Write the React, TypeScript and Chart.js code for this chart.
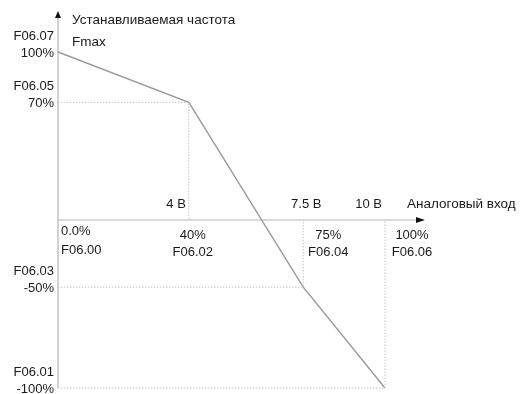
import React, { useEffect, useRef } from "react";
import { Chart, registerables, LinearScale } from "chart.js";

Chart.register(...registerables);

// ---- data ----
const inputPercent = [0, 40, 75, 100];
const outputPercent = [100, 70, -50, -100];
const inputPercentLabels = ["0.0%", "40%", "75%", "100%"];
const inputCodes = ["F06.00", "F06.02", "F06.04", "F06.06"];
const outputPercentLabels = ["100%", "70%", "-50%", "-100%"];
const outputCodes = ["F06.07", "F06.05", "F06.03", "F06.01"];
const voltageLabels = ["", "4 В", "7.5 В", "10 В"];
const yAxisTitle = "Устанавливаемая частота";
const yAxisSubtitle = "Fmax";
const xAxisTitle = "Аналоговый вход";

// schematic (piecewise) vertical scale used in the drawing
const yBreakValues = [-100, -50, 0, 100];
const yBreakDecimals = [0, 0.3, 0.5, 1];

function toDecimal(v: number): number {
  const n = yBreakValues.length;
  let i = 0;
  if (v <= yBreakValues[0]) i = 0;
  else if (v >= yBreakValues[n - 1]) i = n - 2;
  else {
    while (i < n - 2 && v > yBreakValues[i + 1]) i++;
  }
  const v0 = yBreakValues[i], v1 = yBreakValues[i + 1];
  const d0 = yBreakDecimals[i], d1 = yBreakDecimals[i + 1];
  return d0 + ((v - v0) / (v1 - v0)) * (d1 - d0);
}
function fromDecimal(d: number): number {
  const n = yBreakDecimals.length;
  let i = 0;
  if (d <= yBreakDecimals[0]) i = 0;
  else if (d >= yBreakDecimals[n - 1]) i = n - 2;
  else {
    while (i < n - 2 && d > yBreakDecimals[i + 1]) i++;
  }
  const v0 = yBreakValues[i], v1 = yBreakValues[i + 1];
  const d0 = yBreakDecimals[i], d1 = yBreakDecimals[i + 1];
  return v0 + ((d - d0) / (d1 - d0)) * (v1 - v0);
}

class PiecewiseScale extends (LinearScale as any) {
  static id = "piecewise";
  static defaults = (LinearScale as any).defaults;
  getPixelForValue(value: number) {
    if (value === null || value === undefined) return NaN;
    return (this as any).getPixelForDecimal(toDecimal(value));
  }
  getValueForPixel(pixel: number) {
    return fromDecimal((this as any).getDecimalForPixel(pixel));
  }
}
Chart.register(PiecewiseScale as any);

const FONT = "13px 'Liberation Sans', Arial, sans-serif";
const FONT_TITLE = "13.5px 'Liberation Sans', Arial, sans-serif";
const TEXT = "#1a1a1a";

const decorPlugin = {
  id: "decor",
  beforeDatasetsDraw(chart: any) {
    const { ctx } = chart;
    const xs = chart.scales.x;
    const ys = chart.scales.y;
    const x0 = xs.getPixelForValue(0);
    const y0 = ys.getPixelForValue(0);
    const yBottom = ys.getPixelForValue(Math.min(...outputPercent));
    const yTop = ys.getPixelForValue(Math.max(...outputPercent)) - 35;
    const xRight = xs.getPixelForValue(Math.max(...inputPercent)) + 32;
    ctx.save();
    ctx.strokeStyle = "#b4b4b4";
    ctx.lineWidth = 1.2;
    ctx.beginPath();
    ctx.moveTo(x0, yBottom);
    ctx.lineTo(x0, yTop);
    ctx.moveTo(x0, y0);
    ctx.lineTo(xRight, y0);
    ctx.stroke();
    // arrows
    ctx.fillStyle = "#111";
    ctx.beginPath();
    ctx.moveTo(x0, yTop - 6);
    ctx.lineTo(x0 - 3, yTop + 1);
    ctx.lineTo(x0 + 3, yTop + 1);
    ctx.closePath();
    ctx.fill();
    ctx.beginPath();
    ctx.moveTo(xRight + 8, y0);
    ctx.lineTo(xRight - 1, y0 - 3);
    ctx.lineTo(xRight - 1, y0 + 3);
    ctx.closePath();
    ctx.fill();
    ctx.restore();
  },
  afterDraw(chart: any) {
    const { ctx } = chart;
    const xs = chart.scales.x;
    const ys = chart.scales.y;
    const x0 = xs.getPixelForValue(0);
    const y0 = ys.getPixelForValue(0);
    ctx.save();
    ctx.font = FONT;
    ctx.fillStyle = TEXT;
    ctx.textBaseline = "middle";

    // y labels
    ctx.textAlign = "right";
    outputPercent.forEach((v, i) => {
      const py = ys.getPixelForValue(v);
      ctx.fillText(outputPercentLabels[i], x0 - 4, py + 1);
      ctx.fillText(outputCodes[i], x0 - 4, py - 16);
    });

    // x labels below axis
    const belowOffsets = [
      { align: "left", dx: 3 },
      { align: "center", dx: 4 },
      { align: "center", dx: 25 },
      { align: "center", dx: 27 },
    ];
    inputPercent.forEach((v, i) => {
      const px = xs.getPixelForValue(v);
      const o = belowOffsets[i];
      ctx.textAlign = o.align as CanvasTextAlign;
      ctx.fillText(inputPercentLabels[i], px + o.dx, y0 + (i === 0 ? 11 : 15));
      ctx.fillText(inputCodes[i], px + o.dx, y0 + (i === 0 ? 30 : 32));
    });

    // voltage labels above axis
    const aboveOffsets = [0, -3, 3, -3];
    const aboveAlign = ["center", "right", "center", "right"];
    inputPercent.forEach((v, i) => {
      if (!voltageLabels[i]) return;
      const px = xs.getPixelForValue(v);
      ctx.textAlign = aboveAlign[i] as CanvasTextAlign;
      ctx.fillText(voltageLabels[i], px + aboveOffsets[i], y0 - 16);
    });

    // titles
    ctx.font = FONT_TITLE;
    ctx.textAlign = "left";
    ctx.fillText(xAxisTitle, xs.getPixelForValue(Math.max(...inputPercent)) + 22, y0 - 16);
    const yt = ys.getPixelForValue(Math.max(...outputPercent));
    ctx.fillText(yAxisTitle, x0 + 14, yt - 32);
    ctx.fillText(yAxisSubtitle, x0 + 14, yt - 10);
    ctx.restore();
  },
};

export default function App() {
  const ref = useRef<HTMLCanvasElement | null>(null);
  useEffect(() => {
    document.body.style.margin = "0";
    if (!ref.current) return;
    const mainLine = inputPercent.map((x, i) => ({ x, y: outputPercent[i] }));
    const guides = inputPercent.slice(1).map((x, k) => ({
      data: [
        { x: 0, y: outputPercent[k + 1] },
        { x, y: outputPercent[k + 1] },
        { x, y: 0 },
      ],
      borderColor: "#c4c4c4",
      borderWidth: 1,
      borderDash: [1.5, 1.5],
      pointRadius: 0,
      showLine: true,
      fill: false,
      tension: 0,
      clip: false as any,
    }));
    const chart = new Chart(ref.current, {
      type: "scatter",
      data: {
        datasets: [
          ...guides,
          {
            data: mainLine,
            borderColor: "#9a9a9a",
            borderWidth: 1.4,
            pointRadius: 0,
            showLine: true,
            fill: false,
            tension: 0,
            clip: false as any,
          },
        ] as any,
      },
      options: {
        animation: false,
        responsive: true,
        maintainAspectRatio: false,
        layout: { padding: { left: 58, right: 135, top: 52, bottom: 6 } },
        plugins: { legend: { display: false }, tooltip: { enabled: false } },
        events: [],
        scales: {
          x: { type: "linear", min: 0, max: 100, display: false },
          y: { type: "piecewise" as any, min: -100, max: 100, display: false },
        },
      },
      plugins: [decorPlugin],
    });
    return () => chart.destroy();
  }, []);
  return (
    <div style={{ position: "relative", width: 520, height: 394, background: "#fff" }}>
      <canvas ref={ref} />
    </div>
  );
}
